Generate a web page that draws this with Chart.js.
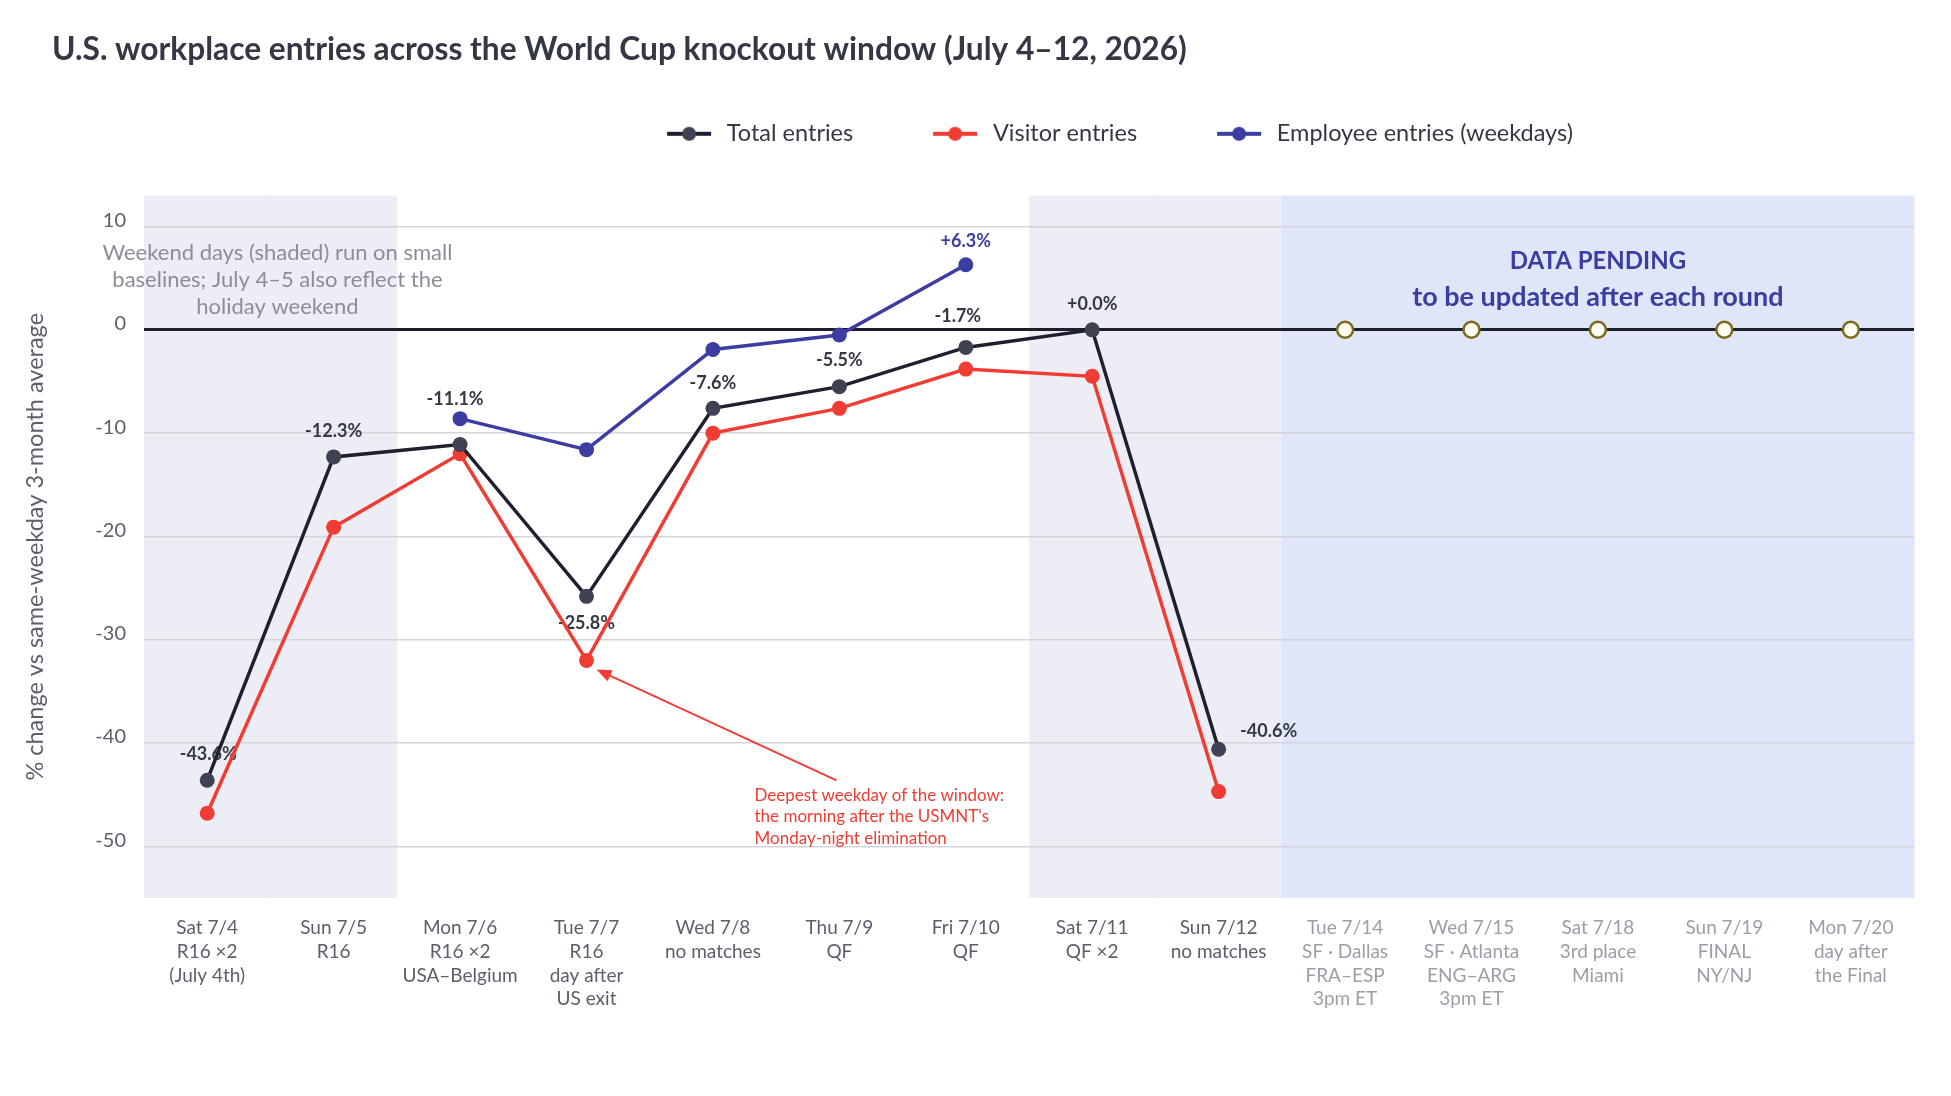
<!DOCTYPE html>
<html>
<head>
<meta charset="utf-8">
<script src="https://cdn.jsdelivr.net/npm/chart.js@4.4.1/dist/chart.umd.min.js"></script>
<style>
  html, body { margin: 0; padding: 0; background: #ffffff; }
  #chart { display: block; }
</style>
</head>
<body>
<canvas id="chart" width="1951" height="1096"></canvas>
<script>
// 카테고리 (x축 라벨, 여러 줄)
const categories = [
    ['Sat 7/4', 'R16 ×2', '(July 4th)'],
    ['Sun 7/5', 'R16'],
    ['Mon 7/6', 'R16 ×2', 'USA–Belgium'],
    ['Tue 7/7', 'R16', 'day after', 'US exit'],
    ['Wed 7/8', 'no matches'],
    ['Thu 7/9', 'QF'],
    ['Fri 7/10', 'QF'],
    ['Sat 7/11', 'QF ×2'],
    ['Sun 7/12', 'no matches'],
    ['Tue 7/14', 'SF · Dallas', 'FRA–ESP', '3pm ET'],
    ['Wed 7/15', 'SF · Atlanta', 'ENG–ARG', '3pm ET'],
    ['Sat 7/18', '3rd place', 'Miami'],
    ['Sun 7/19', 'FINAL', 'NY/NJ'],
    ['Mon 7/20', 'day after', 'the Final']
];

// 시리즈 값 (% change vs same-weekday 3-month average)
const totalEntries    = [-43.6, -12.3, -11.1, -25.8, -7.6, -5.5, -1.7, 0.0, -40.6, null, null, null, null, null];
const visitorEntries  = [-46.8, -19.1, -12.0, -32.0, -10.0, -7.6, -3.8, -4.5, -44.7, null, null, null, null, null];
const employeeEntries = [null, null, -8.6, -11.6, -1.9, -0.5, 6.3, null, null, null, null, null, null, null];
const pendingDays     = [null, null, null, null, null, null, null, null, null, 0, 0, 0, 0, 0];

const weekendDays = [0, 1, 7, 8];   // 음영 처리된 주말
const pendingFrom = 9;              // 데이터 대기 구간 시작
const yTicks = [10, 0, -10, -20, -30, -40, -50];

// 라벨을 붙일 점
const totalLabelIdx = [0, 1, 2, 3, 4, 5, 6, 7, 8];
const employeeLabelIdx = [6];

// 스타일
const FONT = 'Lato';
const COLORS = {
    text: '#343844',
    tick: '#5b5f6b',
    tickPending: '#9a9ea8',
    note: '#8b8d99',
    grid: '#d4d5db',
    zero: '#1e1f2a',
    weekend: '#ecedf5',
    pending: '#dfe6f9',
    totalLine: '#1e2030',
    totalPoint: '#3e4252',
    visitor: '#f03c32',
    employee: '#3c3da2',
    pendingBorder: '#7b6a18',
    pendingFill: '#fffef5'
};
const labelOffsets = {
    0: [1, -26], 1: [0, -26], 2: [-5, -45], 3: [0, 27], 4: [0, -25],
    5: [0, -26], 6: [-8, -31], 7: [0, -26], 8: [50, -18]
};
const LEGEND_LEAD = 70;
const LEGEND_TRAIL = 4;
const legendShift = { x: 128, y: -40 };
const titleIndent = 52;

function fmt(v) {
    return (v >= 0 ? '+' : '-') + Math.abs(v).toFixed(1) + '%';
}

function legendMarker(lineColor, dotColor) {
    const c = document.createElement('canvas');
    c.width = LEGEND_LEAD + 44 + LEGEND_TRAIL;
    c.height = 18;
    const g = c.getContext('2d');
    g.strokeStyle = lineColor;
    g.lineWidth = 4;
    g.beginPath();
    g.moveTo(LEGEND_LEAD, 9);
    g.lineTo(LEGEND_LEAD + 44, 9);
    g.stroke();
    g.fillStyle = dotColor;
    g.beginPath();
    g.arc(LEGEND_LEAD + 22, 9, 7, 0, Math.PI * 2);
    g.fill();
    return c;
}

// 배경 음영
const shadingPlugin = {
    id: 'shading',
    beforeDraw(chart) {
        const { ctx, chartArea } = chart;
        const x = chart.scales.x;
        const half = (x.getPixelForValue(1) - x.getPixelForValue(0)) / 2;
        ctx.save();
        categories.forEach((c, i) => {
            let color = null;
            if (i >= pendingFrom) color = COLORS.pending;
            else if (weekendDays.includes(i)) color = COLORS.weekend;
            if (!color) return;
            const cx = x.getPixelForValue(i);
            ctx.fillStyle = color;
            ctx.fillRect(cx - half, chartArea.top, half * 2 + 0.5, chartArea.bottom - chartArea.top);
        });
        ctx.restore();
    }
};

// 값 라벨 (선 아래에 그려짐)
const valueLabelPlugin = {
    id: 'valueLabels',
    beforeDatasetsDraw(chart) {
        const { ctx } = chart;
        const x = chart.scales.x, y = chart.scales.y;
        ctx.save();
        ctx.font = `bold 18px ${FONT}`;
        ctx.textAlign = 'center';
        ctx.textBaseline = 'middle';
        ctx.fillStyle = COLORS.text;
        totalLabelIdx.forEach(i => {
            const off = labelOffsets[i] || [0, -26];
            ctx.fillText(fmt(totalEntries[i]), x.getPixelForValue(i) + off[0], y.getPixelForValue(totalEntries[i]) + off[1]);
        });
        ctx.fillStyle = COLORS.employee;
        employeeLabelIdx.forEach(i => {
            ctx.fillText(fmt(employeeEntries[i]), x.getPixelForValue(i), y.getPixelForValue(employeeEntries[i]) - 24);
        });
        ctx.restore();
    }
};

// 주석
const notesPlugin = {
    id: 'notes',
    afterDatasetsDraw(chart) {
        const { ctx } = chart;
        const x = chart.scales.x, y = chart.scales.y;
        ctx.save();
        ctx.textBaseline = 'middle';

        // 주말 설명
        ctx.font = `22px ${FONT}`;
        ctx.fillStyle = COLORS.note;
        ctx.textAlign = 'center';
        const wx = (x.getPixelForValue(0) + x.getPixelForValue(1)) / 2 + 7;
        const wy = y.getPixelForValue(10) + 26;
        ['Weekend days (shaded) run on small', 'baselines; July 4–5 also reflect the', 'holiday weekend']
            .forEach((t, k) => ctx.fillText(t, wx, wy + k * 27));

        // DATA PENDING
        const px = x.getPixelForValue(11);
        const zy = y.getPixelForValue(0);
        ctx.fillStyle = COLORS.employee;
        ctx.font = `bold 24px ${FONT}`;
        ctx.fillText('DATA PENDING', px, zy - 69);
        ctx.font = `bold 27px ${FONT}`;
        ctx.fillText('to be updated after each round', px, zy - 33);

        // 화살표 + 설명
        const rx = x.getPixelForValue(3), ry = y.getPixelForValue(visitorEntries[3]);
        const tip = [rx + 10, ry + 9], tail = [rx + 250, ry + 120];
        const ang = Math.atan2(tip[1] - tail[1], tip[0] - tail[0]);
        ctx.strokeStyle = COLORS.visitor;
        ctx.fillStyle = COLORS.visitor;
        ctx.lineWidth = 1.8;
        ctx.beginPath();
        ctx.moveTo(tail[0], tail[1]);
        ctx.lineTo(tip[0] - 10 * Math.cos(ang), tip[1] - 10 * Math.sin(ang));
        ctx.stroke();
        ctx.beginPath();
        ctx.moveTo(tip[0], tip[1]);
        ctx.lineTo(tip[0] - 15 * Math.cos(ang) + 6 * Math.sin(ang), tip[1] - 15 * Math.sin(ang) - 6 * Math.cos(ang));
        ctx.lineTo(tip[0] - 15 * Math.cos(ang) - 6 * Math.sin(ang), tip[1] - 15 * Math.sin(ang) + 6 * Math.cos(ang));
        ctx.closePath();
        ctx.fill();

        ctx.font = `17px ${FONT}`;
        ctx.textAlign = 'left';
        ['Deepest weekday of the window:', "the morning after the USMNT's", 'Monday-night elimination']
            .forEach((t, k) => ctx.fillText(t, rx + 168, ry + 135 + k * 21.5));
        ctx.restore();
    }
};

// 제목/범례 위치 보정
const placementPlugin = {
    id: 'placement',
    afterLayout(chart) {
        if (chart.titleBlock) chart.titleBlock.left += titleIndent;
        if (chart.legend) {
            chart.legend.left += legendShift.x;
            chart.legend.right += legendShift.x;
            chart.legend.top += legendShift.y;
            chart.legend.bottom += legendShift.y;
        }
    }
};

const legendMarkers = [
    legendMarker(COLORS.totalLine, COLORS.totalPoint),
    legendMarker(COLORS.visitor, COLORS.visitor),
    legendMarker(COLORS.employee, COLORS.employee)
];

window.addEventListener('load', () => {
    const ctx = document.getElementById('chart').getContext('2d');
    new Chart(ctx, {
        type: 'line',
        data: {
            labels: categories,
            datasets: [
                {
                    label: 'Total entries',
                    data: totalEntries,
                    borderColor: COLORS.totalLine,
                    backgroundColor: COLORS.totalPoint,
                    pointBackgroundColor: COLORS.totalPoint,
                    borderWidth: 3.5,
                    pointRadius: 7.5,
                    pointBorderWidth: 0
                },
                {
                    label: 'Visitor entries',
                    data: visitorEntries,
                    borderColor: COLORS.visitor,
                    backgroundColor: COLORS.visitor,
                    pointBackgroundColor: COLORS.visitor,
                    borderWidth: 3.5,
                    pointRadius: 7.5,
                    pointBorderWidth: 0
                },
                {
                    label: 'Employee entries (weekdays)',
                    data: employeeEntries,
                    borderColor: COLORS.employee,
                    backgroundColor: COLORS.employee,
                    pointBackgroundColor: COLORS.employee,
                    borderWidth: 3.5,
                    pointRadius: 7.5,
                    pointBorderWidth: 0
                },
                {
                    label: 'Pending',
                    data: pendingDays,
                    showLine: false,
                    pointRadius: 8,
                    pointBorderWidth: 2.5,
                    pointBorderColor: COLORS.pendingBorder,
                    pointBackgroundColor: COLORS.pendingFill,
                    order: -1
                }
            ]
        },
        options: {
            responsive: false,
            animation: false,
            events: [],
            spanGaps: false,
            layout: { padding: { left: 0, right: 37, top: 0, bottom: 0 } },
            plugins: {
                title: {
                    display: true,
                    text: 'U.S. workplace entries across the World Cup knockout window (July 4–12, 2026)',
                    align: 'start',
                    color: COLORS.text,
                    font: { family: FONT, size: 31.7, weight: 'bold', lineHeight: 1.2 },
                    padding: { top: 31, bottom: 83 }
                },
                legend: {
                    display: true,
                    position: 'top',
                    align: 'center',
                    labels: {
                        usePointStyle: true,
                        pointStyleWidth: LEGEND_LEAD + 44 + LEGEND_TRAIL,
                        padding: 10,
                        color: COLORS.text,
                        font: { family: FONT, size: 23.5 },
                        generateLabels: chart => chart.data.datasets.slice(0, 3).map((ds, i) => ({
                            text: ds.label,
                            pointStyle: legendMarkers[i],
                            fillStyle: ds.borderColor,
                            strokeStyle: 'transparent',
                            lineWidth: 0,
                            hidden: false,
                            datasetIndex: i,
                            fontColor: COLORS.text
                        }))
                    }
                },
                tooltip: { enabled: false }
            },
            scales: {
                x: {
                    type: 'category',
                    offset: true,
                    grid: { display: false, drawTicks: false },
                    border: { display: false },
                    ticks: {
                        autoSkip: false,
                        maxRotation: 0,
                        padding: 18,
                        font: { family: FONT, size: 19, lineHeight: 1.25 },
                        color: c => (c.index >= pendingFrom ? COLORS.tickPending : COLORS.tick)
                    },
                    afterFit: s => { s.height = 198; }
                },
                y: {
                    min: -55,
                    max: 13,
                    afterBuildTicks: s => { s.ticks = yTicks.map(v => ({ value: v })); },
                    afterFit: s => { s.width = 144; },
                    grid: {
                        drawTicks: false,
                        color: c => (c.tick && c.tick.value === 0 ? COLORS.zero : COLORS.grid),
                        lineWidth: c => (c.tick && c.tick.value === 0 ? 3 : 1.5)
                    },
                    border: { display: false },
                    ticks: {
                        padding: 18,
                        labelOffset: -6,
                        color: COLORS.tick,
                        font: { family: FONT, size: 20 },
                        callback: v => String(v)
                    },
                    title: {
                        display: true,
                        text: '% change vs same-weekday 3-month average',
                        color: COLORS.tick,
                        font: { family: FONT, size: 23.5, lineHeight: 1.2 },
                        padding: { top: 21, bottom: 0 }
                    }
                }
            }
        },
        plugins: [shadingPlugin, valueLabelPlugin, notesPlugin, placementPlugin]
    });
});
</script>
</body>
</html>
